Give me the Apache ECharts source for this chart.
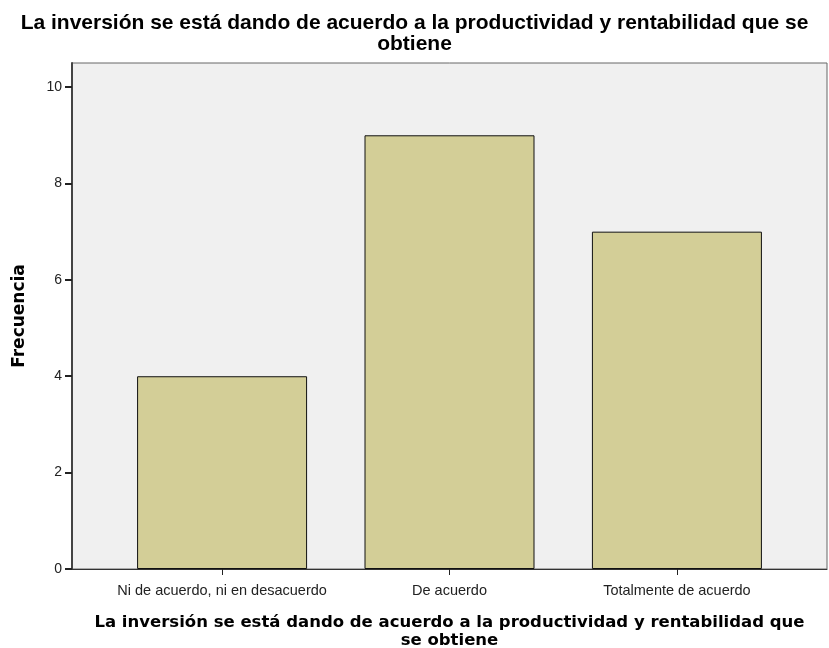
<!DOCTYPE html>
<html>
<head>
<meta charset="utf-8">
<script src="https://cdn.jsdelivr.net/npm/echarts@6/dist/echarts.min.js"></script>
<style>
  html, body { margin: 0; padding: 0; background: #fff; }
  #chart { width: 829px; height: 648px; }
</style>
</head>
<body>
<div id="chart"></div>
<script>
// datos
const categories = ['Ni de acuerdo, ni en desacuerdo', 'De acuerdo', 'Totalmente de acuerdo'];
const frecuencias = [4, 9, 7];
const yTicks = [0, 2, 4, 6, 8, 10];

const titulo = 'La inversión se está dando de acuerdo a la productividad y rentabilidad que se\nobtiene';
const tituloEje = 'La inversión se está dando de acuerdo a la productividad y rentabilidad que\nse obtiene';

const chart = echarts.init(document.getElementById('chart'));

const catIdx = categories.map((c, i) => i);

const option = {
  backgroundColor: '#fff',
  animation: false,
  title: {
    text: titulo,
    left: 'center',
    top: 8,
    textStyle: {
      fontFamily: 'Liberation Sans',
      fontSize: 21,
      fontWeight: 'bold',
      color: '#000',
      lineHeight: 21,
      align: 'center'
    }
  },
  grid: {
    left: 72,
    right: 2,
    top: 63,
    bottom: 79,
    outerBoundsMode: 'none',
    containLabel: false,
    show: true,
    backgroundColor: '#f0f0f0',
    borderColor: '#666',
    borderWidth: 1
  },
  xAxis: {
    type: 'value',
    min: -0.66,
    max: 2.66,
    name: tituloEje,
    nameLocation: 'middle',
    nameGap: 45,
    nameTextStyle: {
      fontFamily: 'DejaVu Sans',
      fontSize: 16.5,
      fontWeight: 'bold',
      color: '#000',
      lineHeight: 18,
      align: 'center'
    },
    splitLine: { show: false },
    axisLine: { show: true, onZero: false, lineStyle: { color: '#333', width: 1 } },
    axisTick: {
      show: true,
      customValues: catIdx,
      length: 6,
      lineStyle: { color: '#222' }
    },
    axisLabel: {
      customValues: catIdx,
      formatter: v => categories[Math.round(v)],
      fontFamily: 'Liberation Sans',
      fontSize: 14.5,
      color: '#222',
      margin: 14
    }
  },
  yAxis: {
    type: 'value',
    min: 0,
    max: 10.5,
    interval: 2,
    name: 'Frecuencia',
    nameLocation: 'middle',
    nameGap: 44,
    nameTextStyle: {
      fontFamily: 'DejaVu Sans',
      fontSize: 17,
      fontWeight: 'bold',
      color: '#000'
    },
    splitLine: { show: false },
    axisLine: { show: true, onZero: false, lineStyle: { color: '#444', width: 2 } },
    axisTick: { show: true, customValues: yTicks, length: 7, lineStyle: { color: '#222', width: 2 } },
    axisLabel: {
      customValues: yTicks,
      fontFamily: 'Liberation Sans',
      fontSize: 14,
      color: '#222',
      margin: 10
    }
  },
  series: [
    {
      type: 'bar',
      data: frecuencias.map((v, i) => [i, v]),
      barWidth: 170,
      itemStyle: {
        color: '#d3ce97',
        borderColor: '#111',
        borderWidth: 1
      }
    }
  ]
};

chart.setOption(option);
</script>
</body>
</html>
